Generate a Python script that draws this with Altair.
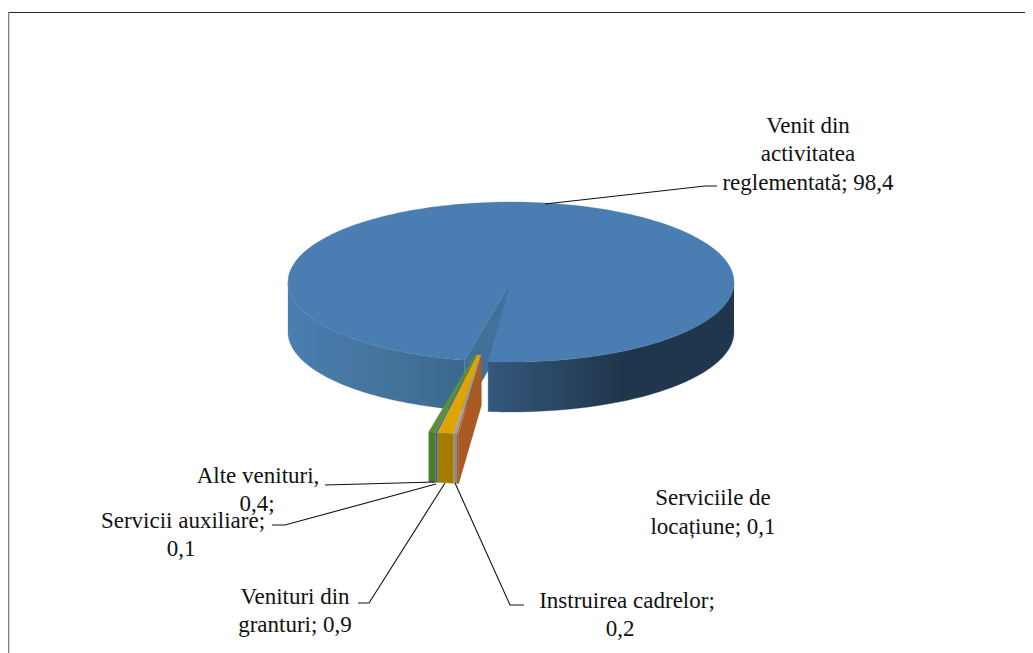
import math
import altair as alt
import pandas as pd

# ---- chart values -------------------------------------------------------
categories = ["Venit din activitatea reglementată", "Serviciile de locațiune",
              "Instruirea cadrelor", "Venituri din granturi",
              "Servicii auxiliare", "Alte venituri"]
values = [98.4, 0.1, 0.2, 0.9, 0.1, 0.4]
top_colors = ["#4A7EB2", "#B4621F", "#A0A0A0", "#DFA400", "#3C69AB", "#5B9038"]
front_colors = ["#4A7EB2", "#A85A22", "#8C8C8C", "#A67C00", "#34609C", "#4E7A2E"]

label_lines = ["Venit din", "activitatea", "reglementată; 98,4",
               "Serviciile de", "locațiune; 0,1",
               "Instruirea cadrelor;", "0,2",
               "Venituri din", "granturi; 0,9",
               "Servicii auxiliare;", "0,1",
               "Alte venituri,", "0,4;"]
label_x = [808, 808, 808, 713, 713, 627, 620, 295, 295, 183, 181, 258, 257]
label_y = [126, 154, 183, 498, 527, 601, 629, 597, 625, 521, 549, 476, 504]

leaders = [
    [(545, 204), (705, 186), (717, 186)],
    [(325, 485), (435, 482)],
    [(272, 525), (285, 525), (436, 484)],
    [(358, 603), (369, 603), (445, 483)],
    [(455, 483), (510, 605), (524, 605)],
]

# ---- pie geometry -------------------------------------------------------
CX, CY, RX, RY, DEPTH = 511, 282, 223, 80, 50
EX_CX, EX_CY, EX_RX, EX_RY, EX_F = 488, 333, 285, 101, 0.22
START = 192.0
total = sum(values)
sweeps = [v / total * 360 for v in values]


def pt(theta, cx=CX, cy=CY, rx=RX, ry=RY, f=1.0, dy=0):
    t = math.radians(theta)
    return (cx + f * rx * math.sin(t), cy - f * ry * math.cos(t) + dy)


def arc(a, b, n=80, **kw):
    return [pt(a + (b - a) * i / n, **kw) for i in range(n + 1)]


def polygon(points, fill):
    df = pd.DataFrame(points, columns=["x", "y"])
    df["i"] = range(len(df))
    return alt.Chart(df).mark_line(fill=fill, stroke=fill, strokeWidth=0.3, interpolate="linear").encode(
        x=alt.X("x:Q", scale=X_SCALE, axis=None),
        y=alt.Y("y:Q", scale=Y_SCALE, axis=None),
        order="i:Q",
    )


def gradient(stops):
    return alt.Gradient(
        gradient="linear",
        stops=[alt.GradientStop(color=c, offset=o) for o, c in stops],
        x1=0, x2=1, y1=0, y2=0,
    )


W, H = 1017, 645
X_SCALE = alt.Scale(domain=[8, 8 + W], range=[0, W], nice=False, zero=False)
Y_SCALE = alt.Scale(domain=[8, 8 + H], range=[0, H], nice=False, zero=False)

end_main = START + sweeps[0]
layers = []

# side of the main slice, left part
layers.append(polygon(
    arc(START, 270) + arc(270, START, dy=DEPTH),
    gradient([(0, "#4A7EB0"), (0.55, "#44739C"), (1, "#3C688E")]),
))
# cut face of the main slice seen through the gap
layers.append(polygon(
    [(CX, CY), pt(START), pt(START, dy=DEPTH), (CX, CY + DEPTH)],
    "#41709A",
))
# side of the main slice, right part
layers.append(polygon(
    arc(90, end_main - 360) + arc(end_main - 360, 90, dy=DEPTH),
    gradient([(0, "#34597C"), (0.54, "#20364C"), (1, "#20364C")]),
))
# top of the main slice
layers.append(polygon([(CX, CY)] + arc(START, end_main, n=240), top_colors[0]))

# the small exploded slices
ex = dict(cx=EX_CX, cy=EX_CY, rx=EX_RX, ry=EX_RY)
a = end_main - 360
layers.append(polygon(
    [pt(a, f=EX_F, **ex), pt(a, **ex), pt(a, dy=DEPTH, **ex), pt(a, f=EX_F, dy=DEPTH, **ex)],
    front_colors[1],
))
for k in range(1, len(values)):
    b = a + sweeps[k]
    layers.append(polygon(arc(a, b, n=6, dy=DEPTH, **ex) + arc(b, a, n=6, **ex), front_colors[k]))
    layers.append(polygon(arc(a, b, n=6, **ex) + arc(b, a, n=6, f=EX_F, **ex), top_colors[k]))
    a = b

# leader lines
for j, pts in enumerate(leaders):
    df = pd.DataFrame(pts, columns=["x", "y"])
    df["i"] = range(len(df))
    layers.append(alt.Chart(df).mark_line(color="#111111", strokeWidth=1.1).encode(
        x=alt.X("x:Q", scale=X_SCALE, axis=None),
        y=alt.Y("y:Q", scale=Y_SCALE, axis=None),
        order="i:Q",
    ))

# labels
labels = pd.DataFrame({"t": label_lines, "x": label_x, "y": label_y})
layers.append(alt.Chart(labels).mark_text(
    font="Liberation Serif", fontSize=23, color="#111111", align="center", baseline="middle"
).encode(
    x=alt.X("x:Q", scale=X_SCALE, axis=None),
    y=alt.Y("y:Q", scale=Y_SCALE, axis=None),
    text="t:N",
))

# chart frame
top = pd.DataFrame({"x": [8], "x2": [8 + W], "y": [12.5]})
left = pd.DataFrame({"x": [8.5], "y": [12], "y2": [8 + H]})
layers.append(alt.Chart(top).mark_rule(color="#262626", strokeWidth=1).encode(
    x=alt.X("x:Q", scale=X_SCALE, axis=None), x2="x2:Q",
    y=alt.Y("y:Q", scale=Y_SCALE, axis=None)))
layers.append(alt.Chart(left).mark_rule(color="#7F7F7F", strokeWidth=1.5).encode(
    x=alt.X("x:Q", scale=X_SCALE, axis=None),
    y=alt.Y("y:Q", scale=Y_SCALE, axis=None), y2="y2:Q"))

chart = alt.layer(*layers).properties(
    width=W, height=H, padding=0, autosize=alt.AutoSizeParams(type="none"),
    background="white",
).configure_view(stroke=None)

chart.save("out.html", embed_options={"renderer": "svg", "actions": False})
